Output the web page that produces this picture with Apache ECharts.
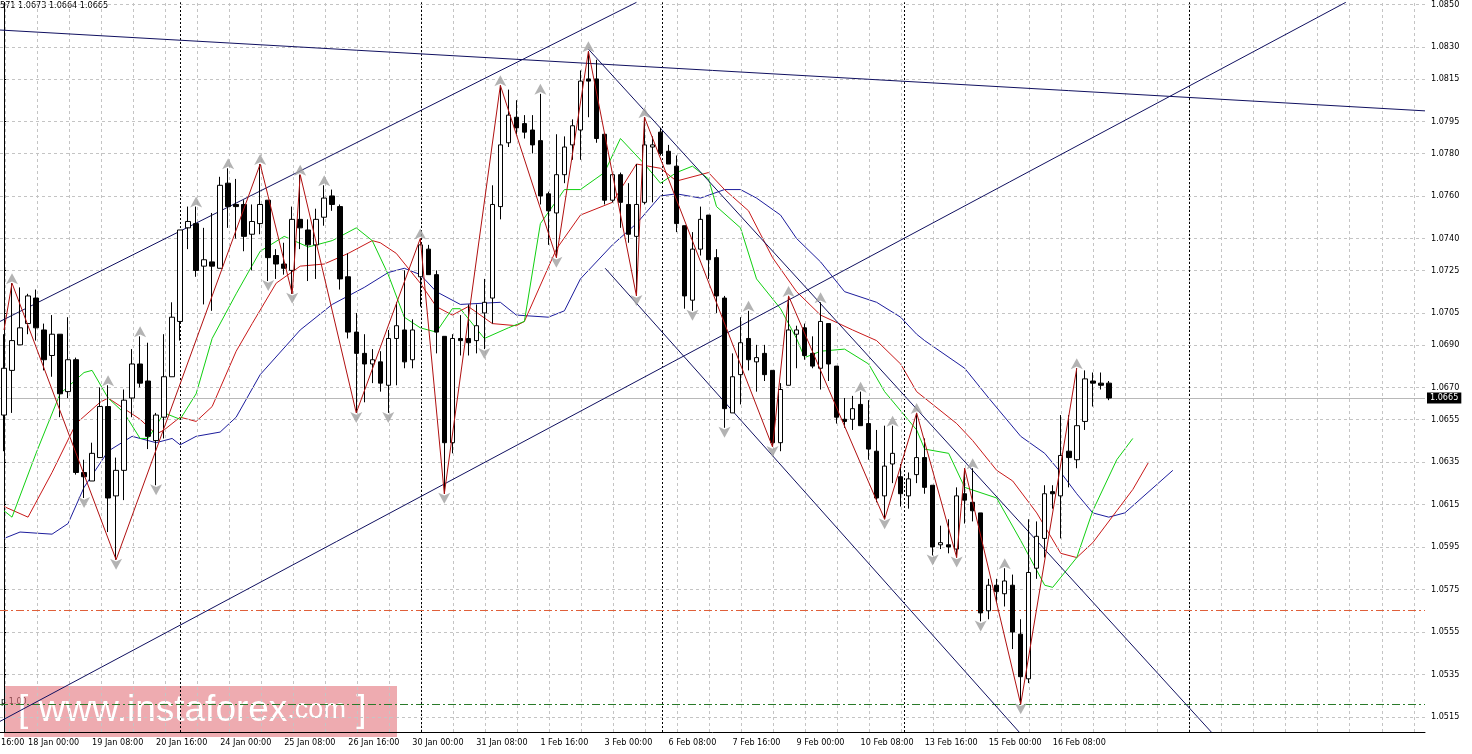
<!DOCTYPE html>
<html>
<head>
<meta charset="utf-8">
<script src="https://cdn.jsdelivr.net/npm/echarts@6/dist/echarts.min.js"></script>
<style>html,body{margin:0;padding:0;background:#fff}#chart{width:1472px;height:754px}</style>
</head>
<body>
<div id="chart"></div>
<script>
// bars: [open, close, low, high]
const candles = [
  [1.0657,1.0679,1.0640,1.0695],[1.0678,1.0692,1.0658,1.0719],[1.0690,1.0698,1.0690,1.0717],[1.0700,1.0713,1.0695,1.0714],
  [1.0712,1.0698,1.0692,1.0716],[1.0697,1.0683,1.0678,1.0700],[1.0685,1.0695,1.0675,1.0704],[1.0695,1.0667,1.0656,1.0695],
  [1.0668,1.0683,1.0665,1.0703],[1.0683,1.0630,1.0629,1.0684],[1.0630,1.0628,1.0618,1.0636],[1.0626,1.0639,1.0626,1.0644],
  [1.0637,1.0661,1.0637,1.0670],[1.0661,1.0618,1.0602,1.0671],[1.0619,1.0631,1.0589,1.0637],[1.0631,1.0664,1.0617,1.0669],
  [1.0665,1.0681,1.0656,1.0688],[1.0681,1.0672,1.0670,1.0694],[1.0673,1.0647,1.0641,1.0691],[1.0645,1.0657,1.0624,1.0658],
  [1.0656,1.0675,1.0646,1.0695],[1.0675,1.0703,1.0675,1.0710],[1.0701,1.0744,1.0692,1.0744],[1.0745,1.0748,1.0735,1.0755],
  [1.0747,1.0725,1.0722,1.0755],[1.0727,1.0730,1.0709,1.0745],[1.0729,1.0727,1.0706,1.0752],[1.0726,1.0765,1.0726,1.0769],
  [1.0766,1.0755,1.0745,1.0773],[1.0756,1.0755,1.0740,1.0768],[1.0756,1.0741,1.0734,1.0758],[1.0742,1.0748,1.0725,1.0756],
  [1.0747,1.0756,1.0742,1.0775],[1.0758,1.0731,1.0720,1.0758],[1.0732,1.0728,1.0721,1.0735],[1.0728,1.0726,1.0723,1.0738],
  [1.0725,1.0749,1.0714,1.0755],[1.0749,1.0745,1.0735,1.0770],[1.0744,1.0737,1.0720,1.0749],[1.0737,1.0749,1.0721,1.0754],
  [1.0750,1.0759,1.0746,1.0765],[1.0760,1.0756,1.0753,1.0763],[1.0755,1.0721,1.0716,1.0756],[1.0722,1.0696,1.0693,1.0733],
  [1.0696,1.0686,1.0658,1.0705],[1.0686,1.0681,1.0663,1.0695],[1.0681,1.0683,1.0672,1.0688],[1.0682,1.0672,1.0668,1.0687],
  [1.0671,1.0693,1.0658,1.0697],[1.0693,1.0699,1.0671,1.0710],[1.0697,1.0682,1.0679,1.0725],[1.0683,1.0697,1.0679,1.0702],
  [1.0722,1.0737,1.0708,1.0740],[1.0735,1.0723,1.0723,1.0737],[1.0723,1.0696,1.0686,1.0725],[1.0694,1.0644,1.0620,1.0694],
  [1.0644,1.0693,1.0639,1.0695],[1.0693,1.0692,1.0685,1.0704],[1.0693,1.0691,1.0685,1.0709],[1.0692,1.0699,1.0686,1.0709],
  [1.0705,1.0710,1.0688,1.0721],[1.0712,1.0756,1.0700,1.0765],[1.0755,1.0784,1.0749,1.0812],[1.0785,1.0798,1.0783,1.0810],
  [1.0797,1.0792,1.0789,1.0805],[1.0794,1.0790,1.0787,1.0798],[1.0791,1.0784,1.0780,1.0798],[1.0786,1.0760,1.0756,1.0808],
  [1.0761,1.0753,1.0737,1.0762],[1.0752,1.0770,1.0731,1.0789],[1.0770,1.0783,1.0766,1.0788],[1.0784,1.0793,1.0777,1.0796],
  [1.0791,1.0814,1.0777,1.0819],[1.0815,1.0814,1.0797,1.0828],[1.0815,1.0787,1.0785,1.0824],[1.0789,1.0758,1.0756,1.0789],
  [1.0758,1.0770,1.0757,1.0770],[1.0770,1.0757,1.0745,1.0771],[1.0756,1.0742,1.0738,1.0766],[1.0741,1.0756,1.0713,1.0775],
  [1.0757,1.0784,1.0756,1.0797],[1.0783,1.0784,1.0757,1.0788],[1.0790,1.0780,1.0779,1.0792],[1.0781,1.0775,1.0775,1.0784],
  [1.0774,1.0747,1.0743,1.0779],[1.0746,1.0713,1.0707,1.0746],[1.0711,1.0735,1.0706,1.0743],[1.0735,1.0749,1.0732,1.0755],
  [1.0751,1.0730,1.0721,1.0751],[1.0731,1.0713,1.0705,1.0735],[1.0712,1.0660,1.0651,1.0713],[1.0658,1.0675,1.0658,1.0686],
  [1.0676,1.0691,1.0662,1.0703],[1.0693,1.0683,1.0678,1.0706],[1.0682,1.0684,1.0668,1.0690],[1.0686,1.0676,1.0673,1.0690],
  [1.0678,1.0644,1.0642,1.0678],[1.0644,1.0669,1.0640,1.0672],[1.0671,1.0697,1.0671,1.0713],[1.0695,1.0697,1.0679,1.0699],
  [1.0698,1.0685,1.0683,1.0700],[1.0686,1.0680,1.0679,1.0694],[1.0679,1.0701,1.0669,1.0710],[1.0700,1.0681,1.0673,1.0700],
  [1.0680,1.0656,1.0653,1.0680],[1.0655,1.0654,1.0651,1.0665],[1.0655,1.0660,1.0650,1.0666],[1.0662,1.0652,1.0652,1.0668],
  [1.0653,1.0641,1.0636,1.0664],[1.0640,1.0618,1.0616,1.0650],[1.0619,1.0633,1.0608,1.0652],[1.0634,1.0639,1.0625,1.0652],
  [1.0628,1.0620,1.0614,1.0634],[1.0619,1.0627,1.0613,1.0630],[1.0629,1.0637,1.0625,1.0658],[1.0637,1.0623,1.0620,1.0646],
  [1.0624,1.0595,1.0591,1.0624],[1.0596,1.0597,1.0594,1.0605],[1.0596,1.0595,1.0592,1.0608],[1.0594,1.0619,1.0590,1.0623],
  [1.0620,1.0617,1.0606,1.0632],[1.0616,1.0612,1.0607,1.0632],[1.0611,1.0564,1.0560,1.0611],[1.0565,1.0577,1.0561,1.0580],
  [1.0577,1.0574,1.0569,1.0580],[1.0573,1.0579,1.0567,1.0585],[1.0577,1.0555,1.0547,1.0582],[1.0554,1.0534,1.0521,1.0561],
  [1.0533,1.0583,1.0531,1.0608],[1.0585,1.0600,1.0580,1.0607],[1.0599,1.0620,1.0590,1.0624],[1.0621,1.0620,1.0613,1.0624],
  [1.0619,1.0638,1.0599,1.0657],[1.0640,1.0637,1.0623,1.0657],[1.0636,1.0652,1.0632,1.0679],[1.0654,1.0674,1.0650,1.0678],
  [1.0673,1.0672,1.0661,1.0677],[1.0672,1.0671,1.0669,1.0677],[1.0672,1.0665,1.0664,1.0673]
];
const totalSlots = 178;

// alligator lines: [bar, price]
const lipsGreen = [[0,1.0612],[1,1.0609],[4,1.0639],[7,1.0667],[10,1.0677],[11,1.0678],[13,1.0665],[15,1.0658],[17,1.0646],[18,1.0646],[20,1.0658],[22,1.0655],[24,1.0667],[26,1.0693],[29,1.0714],[32,1.0734],[35,1.0741],[38,1.0736],[41,1.0739],[44,1.0745],[46,1.0739],[48,1.0723],[50,1.0703],[52,1.0698],[54,1.0696],[56,1.0707],[57,1.0707],[60,1.0693],[63,1.0698],[65,1.0701],[67,1.0747],[70,1.0763],[72,1.0763],[75,1.0771],[77,1.0787],[80,1.0775],[82,1.0766],[84,1.0771],[86,1.0774],[88,1.0768],[89,1.0755],[92,1.0745],[94,1.0721],[97,1.0707],[99,1.0693],[100,1.0684],[102,1.0687],[105,1.0688],[108,1.0681],[110,1.0668],[114,1.0650],[115,1.0641],[118,1.0639],[120,1.0623],[124,1.0618],[127,1.0598],[130,1.0577],[131,1.0576],[134,1.0590],[136,1.0612],[139,1.0636],[141,1.0646]];
const teethRed = [[0,1.0614],[3,1.0609],[6,1.0630],[9,1.0653],[12,1.0663],[13,1.0665],[15,1.0660],[17,1.0655],[19,1.0648],[20,1.0650],[22,1.0656],[24,1.0654],[26,1.0661],[29,1.0687],[31,1.0700],[34,1.0719],[37,1.0727],[40,1.0728],[43,1.0733],[46,1.0739],[47,1.0738],[49,1.0733],[52,1.0719],[54,1.0708],[56,1.0704],[58,1.0708],[61,1.0700],[64,1.0699],[65,1.0701],[69,1.0735],[72,1.0751],[76,1.0757],[79,1.0775],[82,1.0773],[84,1.0767],[88,1.0771],[90,1.0763],[93,1.0753],[96,1.0731],[99,1.0715],[102,1.0704],[106,1.0697],[109,1.0692],[112,1.0681],[114,1.0668],[115,1.0665],[119,1.0653],[121,1.0645],[124,1.0631],[126,1.0626],[129,1.0611],[132,1.0592],[134,1.0590],[136,1.0597],[139,1.0612],[141,1.0622],[143,1.0635]];
const jawBlue = [[0,1.0599],[2,1.0602],[6,1.0601],[8,1.0606],[10,1.0623],[13,1.0640],[16,1.0647],[19,1.0644],[21,1.0646],[22,1.0643],[24,1.0647],[27,1.0649],[29,1.0656],[32,1.0676],[37,1.0697],[41,1.0709],[45,1.0717],[48,1.0724],[50,1.0726],[52,1.0723],[54,1.0715],[57,1.0709],[62,1.0710],[64,1.0704],[68,1.0703],[70,1.0706],[72,1.0721],[76,1.0737],[79,1.0747],[82,1.0760],[84,1.0761],[87,1.0759],[90,1.0763],[92,1.0763],[94,1.0759],[97,1.0751],[99,1.0740],[102,1.0729],[105,1.0715],[109,1.0710],[112,1.0703],[114,1.0695],[115,1.0692],[120,1.0679],[123,1.0665],[127,1.0647],[130,1.0639],[132,1.0630],[134,1.0620],[136,1.0611],[138,1.0609],[140,1.0611],[146,1.0631]];

const zigzag = [[0,1.0697],[1,1.0719],[14,1.0589],[32,1.0775],[36,1.0714],[37,1.0770],[44,1.0658],[52,1.0740],[55,1.0620],[62,1.0812],[69,1.0731],[73,1.0828],[79,1.0713],[80,1.0797],[96,1.0642],[98,1.0713],[110,1.0608],[114,1.0658],[119,1.0590],[120,1.0632],[127,1.0521],[134,1.0679]];
const fractalUp = [1,13,17,24,28,32,37,40,52,62,67,73,80,93,98,102,107,111,114,121,125,134];
const fractalDown = [10,14,19,33,36,44,48,55,60,69,79,86,90,96,110,116,119,122,127];

const trendLines = [
  [[-0.5,1.0838],[177.5,1.0800]],
  [[-0.5,1.0701],[79,1.0851]],
  [[-0.5,1.0513],[167.6,1.0851]],
  [[73,1.0829],[150.8,1.0508]],
  [[75.1,1.0726],[126.8,1.0508]]
];
const priceTicks = [1.0850,1.0830,1.0815,1.0795,1.0780,1.0760,1.0740,1.0725,1.0705,1.0690,1.0670,1.0655,1.0635,1.0615,1.0595,1.0575,1.0555,1.0535,1.0515];
const firstTimeLabel = '16:00';
const timeLabels = ['18 Jan 00:00','19 Jan 08:00','20 Jan 16:00','24 Jan 00:00','25 Jan 08:00','26 Jan 16:00','30 Jan 00:00','31 Jan 08:00','1 Feb 16:00','3 Feb 00:00','6 Feb 08:00','7 Feb 16:00','9 Feb 00:00','10 Feb 08:00','13 Feb 16:00','15 Feb 00:00','16 Feb 08:00'];
const sessionLines = [22, 52.1, 82.25, 112.4, 148.1];
const lastPrice = 1.0665;
const levelRed = 1.0565;
const levelGreen = 1.0521;

// bar index -> time label, every 8 bars from bar 3
const labelAt = {};
timeLabels.forEach((t, k) => { labelAt[3 + 8 * k] = t; });
const categories = [];
for (let i = 0; i < totalSlots; i++) categories.push(String(i));

const gridLines = [];
priceTicks.forEach(v => gridLines.push({yAxis: v}));
for (let b = 0.1; b < totalSlots; b += 4) gridLines.push({xAxis: b});

const fracUpData = fractalUp.map(i => [i, candles[i][3]]);
const fracDownData = fractalDown.map(i => [i, candles[i][2]]);

const chart = echarts.init(document.getElementById('chart'));
const lineBase = {type: 'line', xAxisIndex: 1, symbol: 'none', silent: true, animation: false};
const axisFont = {color: '#000', fontSize: 9, fontFamily: 'DejaVu Sans Condensed'};

chart.setOption({
  backgroundColor: '#fff',
  animation: false,
  grid: {left: 0, right: 47, top: 0, bottom: 22},
  xAxis: [{
    type: 'category', data: categories, boundaryGap: true,
    axisLine: {lineStyle: {color: '#000'}},
    axisTick: {show: false},
    axisLabel: Object.assign({interval: 0, align: 'left', margin: 6, formatter: (v, i) => labelAt[i] || ''}, axisFont),
    splitLine: {show: false}
  }, {
    type: 'value', min: -0.5, max: totalSlots - 0.5, show: false
  }],
  yAxis: {
    type: 'value', min: 1.0508, max: 1.0851, position: 'right',
    axisLine: {show: true, lineStyle: {color: '#000'}},
    axisTick: {show: true, length: 3, customValues: priceTicks, lineStyle: {color: '#000'}},
    axisLabel: Object.assign({customValues: priceTicks, margin: 6, formatter: v => v.toFixed(4)}, axisFont),
    splitLine: {show: false}
  },
  graphic: [
    {type: 'text', left: 0, top: 1, style: {text: '571 1.0673 1.0664 1.0665', fontSize: 9, fontFamily: 'DejaVu Sans Condensed', fill: '#000'}},
    {type: 'text', left: 1, top: 738, style: {text: firstTimeLabel, fontSize: 9, fontFamily: 'DejaVu Sans Condensed', fill: '#000'}},
    {type: 'text', left: 1, top: 697, style: {text: 'p 1.00', fontSize: 9, fontFamily: 'DejaVu Sans Condensed', fill: '#000'}},
    {type: 'rect', left: 4, top: 686, shape: {width: 393, height: 51}, style: {fill: 'rgba(228,120,128,0.62)'}},
    {type: 'text', left: 18, top: 692, style: {
      text: '{a|[ www.instaforex}{b|.com}{a| ]}',
      rich: {a: {fontSize: 37, fontFamily: 'Liberation Sans', fill: '#fff'},
             b: {fontSize: 27, fontFamily: 'Liberation Sans', fill: '#fff'}}
    }}
  ],
  series: [
    Object.assign({}, lineBase, {
      name: 'grid', data: [], z: 1,
      markLine: {silent: true, symbol: 'none', precision: 5, label: {show: false}, animation: false,
        lineStyle: {color: '#c4c4c4', type: [3, 3], width: 1}, data: gridLines}
    }),
    Object.assign({}, lineBase, {
      name: 'levels', data: [], z: 2,
      markLine: {silent: true, symbol: 'none', precision: 5, animation: false, label: {show: false},
        data: sessionLines.map(b => ({xAxis: b, lineStyle: {color: '#000', type: [2, 2], width: 1}})).concat([
          {yAxis: lastPrice, lineStyle: {color: '#b8b8b8', type: 'solid', width: 1}},
          {yAxis: levelRed, lineStyle: {color: '#e0603a', type: [8, 3, 2, 3], width: 1}},
          {yAxis: levelGreen, lineStyle: {color: '#2a7a2a', type: [8, 3, 2, 3], width: 1}}
        ])}
    }),
    Object.assign({}, lineBase, {
      name: 'trend', data: [], z: 3,
      markLine: {silent: true, symbol: 'none', precision: 5, animation: false, label: {show: false},
        lineStyle: {color: '#101060', type: 'solid', width: 1},
        data: trendLines.map(l => [{coord: l[0]}, {coord: l[1]}])}
    }),
    Object.assign({}, lineBase, {name: 'jaw', data: jawBlue, z: 4, lineStyle: {color: '#1c1c9c', width: 1}}),
    Object.assign({}, lineBase, {name: 'teeth', data: teethRed, z: 4, lineStyle: {color: '#c81818', width: 1}}),
    Object.assign({}, lineBase, {name: 'lips', data: lipsGreen, z: 4, lineStyle: {color: '#10d010', width: 1}}),
    {
      type: 'candlestick', name: 'EURUSD', data: candles, barWidth: 5, z: 5, silent: true,
      itemStyle: {color: '#fff', color0: '#000', borderColor: '#000', borderColor0: '#000', borderWidth: 1},
      markLine: {silent: true, symbol: 'none', precision: 5, animation: false,
        data: [{yAxis: lastPrice}],
        lineStyle: {color: 'transparent'},
        label: {position: 'end', distance: 2, formatter: lastPrice.toFixed(4), color: '#fff', backgroundColor: '#000',
          fontSize: 9, fontFamily: 'DejaVu Sans Condensed', padding: [1, 3]}}
    },
    Object.assign({}, lineBase, {name: 'zigzag', data: zigzag, z: 6, lineStyle: {color: '#b01010', width: 1}}),
    {
      type: 'scatter', xAxisIndex: 1, data: fracUpData, symbol: 'arrow', symbolSize: [9, 11],
      symbolOffset: [0, -10], itemStyle: {color: '#a0a0a0'}, silent: true, z: 7
    },
    {
      type: 'scatter', xAxisIndex: 1, data: fracDownData, symbol: 'arrow', symbolRotate: 180, symbolSize: [9, 11],
      symbolOffset: [0, 10], itemStyle: {color: '#a0a0a0'}, silent: true, z: 7
    }
  ]
});
</script>
</body>
</html>
